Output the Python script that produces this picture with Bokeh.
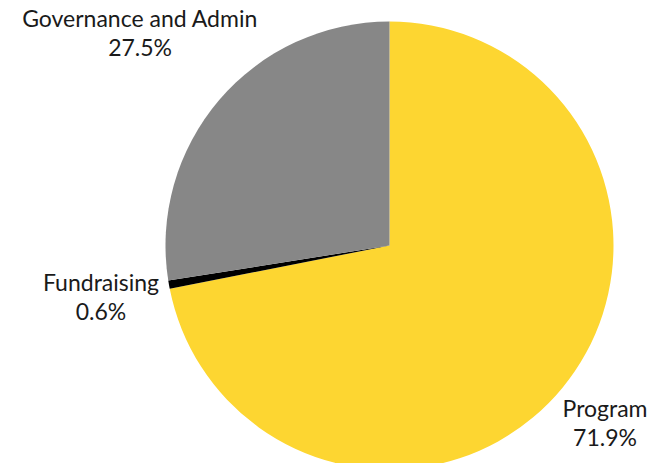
import math
from bokeh.plotting import figure
from bokeh.models import ColumnDataSource
from bokeh.core.properties import value
from bokeh.embed import file_html
from bokeh.resources import INLINE

categories = ["Program", "Fundraising", "Governance and Admin"]
shares = [71.9, 0.6, 27.5]
colors = ["#FDD631", "#000000", "#878787"]

# layout
W, H = 659, 463
cx, cy = 389, H - 245
R = 224
label_dist = [279, 293, 328]

total = sum(shares)
starts, ends, lx, ly = [], [], [], []
acc = 0.0
for v, d in zip(shares, label_dist):
    a0 = math.pi / 2 - 2 * math.pi * acc / total
    a1 = math.pi / 2 - 2 * math.pi * (acc + v) / total
    starts.append(a0)
    ends.append(a1)
    mid = (a0 + a1) / 2
    lx.append(cx + d * math.cos(mid))
    ly.append(cy + d * math.sin(mid))
    acc += v

src = ColumnDataSource(dict(
    start=starts, end=ends, color=colors,
    name=categories, pct=[f"{v:.1f}%" for v in shares],
    lx=lx, ly_top=[y + 14.5 for y in ly], ly_bot=[y - 14.5 for y in ly],
))

p = figure(width=W, height=H, x_range=(0, W), y_range=(0, H),
           output_backend="svg", toolbar_location=None, min_border=0)
p.axis.visible = False
p.grid.visible = False
p.outline_line_color = None
p.background_fill_color = "white"

p.wedge(x=cx, y=cy, radius=R, start_angle="start", end_angle="end",
        direction="clock", fill_color="color", line_color=None, source=src)

for ycol, col in (("ly_top", "name"), ("ly_bot", "pct")):
    p.text(x="lx", y=ycol, text=col, source=src, text_align="center",
           text_baseline="middle", text_font=value("Lato"),
           text_font_size="23px", text_color="#1a1a1a")

open("out.html", "w").write(file_html(p, INLINE))
